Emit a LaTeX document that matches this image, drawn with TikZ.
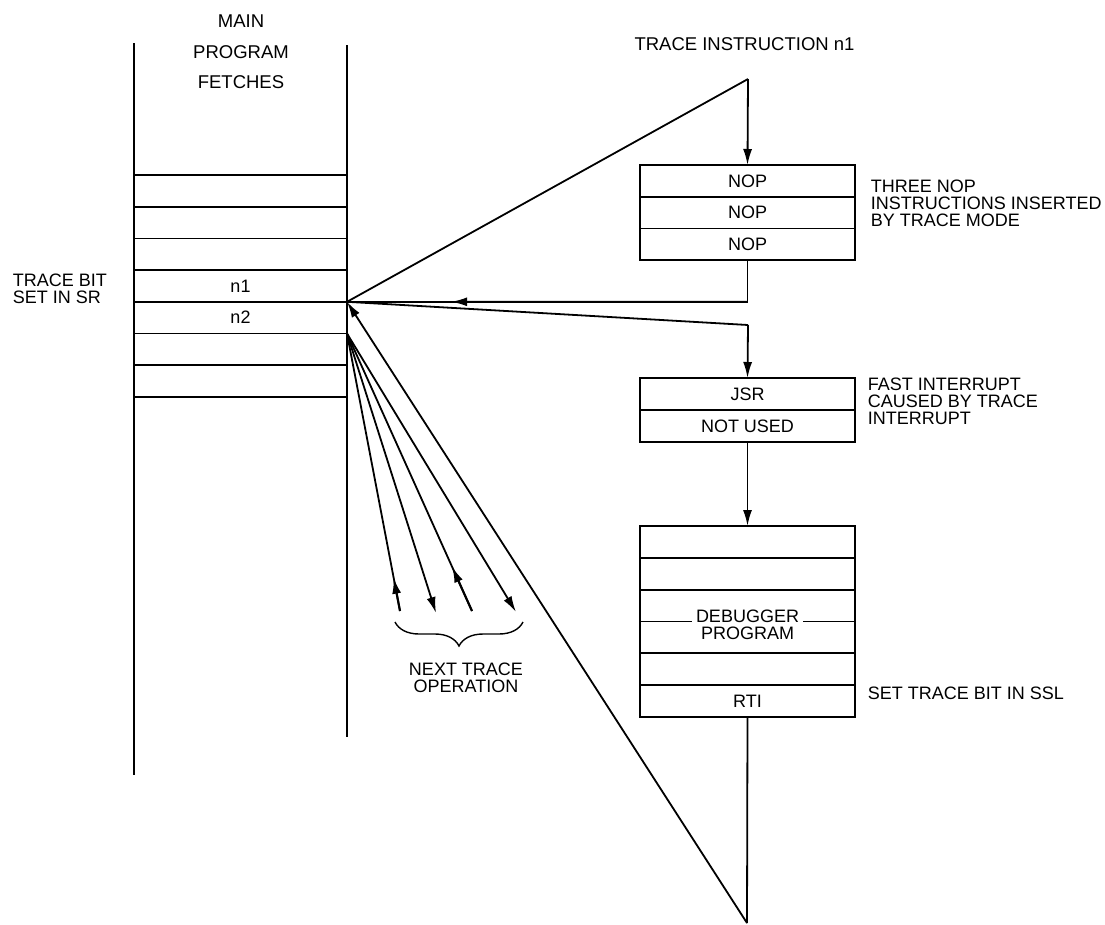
\documentclass[tikz,border=0pt]{standalone}
\usepackage{fontspec}
\setmainfont{Liberation Sans}
\usetikzlibrary{arrows.meta,calc,decorations.pathreplacing}
\begin{document}
\begin{tikzpicture}[x=1pt,y=-1pt,line width=1.8pt,
  txt/.style={inner sep=0pt,font=\fontsize{18}{17}\selectfont},
  cell/.style={draw,outer sep=0pt,inner sep=0pt,minimum width=213pt,minimum height=31.7pt,font=\fontsize{18}{17}\selectfont},
  rcell/.style={cell,minimum width=215pt},
  arr/.style={-{Latex[length=16pt,width=9pt]}},
  note/.style={txt,anchor=west,align=left}]
\useasboundingbox (0,0) rectangle (1105,924);
% main column
\coordinate (cLt) at (134,43); \coordinate (cLb) at (134,775);
\coordinate (cRt) at (347,45); \coordinate (cRb) at (347,737);
\draw (cLt) -- (cLb);
\draw (cRt) -- (cRb);
\foreach \i/\t in {1/,2/,3/,4/n1,5/n2,6/,7/}
  \node[cell] (m\i) at (240.5,{175+31.7*(\i-0.5)}) {\t};
\node[txt,align=center,font=\fontsize{18.5}{30.5}\selectfont] (title) at (241,52) {MAIN\\PROGRAM\\FETCHES};
\node[note] (tbit) at (12,288.5) {TRACE BIT\\SET IN SR};
\coordinate (P) at (m4.south east);
\coordinate (Q) at (m5.south east);
% NOP box
\node[txt,font=\fontsize{18.5}{17}\selectfont] (ti) at (744.5,44.5) {TRACE INSTRUCTION n1};
\coordinate (T) at (748,79);
\foreach \i in {1,2,3}
  \node[rcell] (nop\i) at (747.5,{165+31.7*(\i-0.5)}) {NOP};
\node[note] (nopn) at (870,203) {THREE NOP\\INSTRUCTIONS INSERTED\\BY TRACE MODE};
\draw (P) -- (T);
\draw[arr] (T) -- (nop1.north);
\coordinate (c1) at ($(nop3.south)+(0,41.7)$);
\draw (nop3.south) -- (c1) -- (P);
\draw[arr] (c1) -- ($(c1)!0.74!(P)$);
% JSR box
\node[rcell,minimum height=32pt] (jsr) at (747.5,394) {JSR};
\node[rcell,minimum height=32pt] (nu) at (747.5,426) {NOT USED};
\node[note] (fastn) at (867,401.5) {FAST INTERRUPT\\CAUSED BY TRACE\\INTERRUPT};
\coordinate (c2) at (748,325);
\draw (P) -- (c2);
\draw[arr] (c2) -- (jsr.north);
% debugger box
\foreach \i in {1,...,6}
  \node[rcell,minimum height=31.83pt] (d\i) at (747.5,{526+31.83*(\i-0.5)}) {};
\node[txt,fill=white,inner xsep=4pt,inner ysep=1pt,align=center] (dbg) at (747.5,625) {DEBUGGER\\PROGRAM};
\node[txt] (rti) at (d6) {RTI};
\node[note] (ssl) at (867,693.5) {SET TRACE BIT IN SSL};
\draw[arr] (nu.south) -- (d1.north);
\coordinate (B) at (747,923);
\draw (d6.south) -- (B);
\draw[arr] (B) -- (P);
% fan of next trace operation
\coordinate (e1) at (400,611);
\coordinate (e2) at (436,613);
\coordinate (e3) at (472,611);
\coordinate (e4) at (516,612);
\draw (e1) -- (Q);
\draw[arr,line width=2.1pt] (e1) -- ($(e1)!0.12!(Q)$);
\draw[arr] (Q) -- (e2);
\draw (e3) -- (Q);
\draw[arr,line width=2.1pt] (e3) -- ($(e3)!0.16!(Q)$);
\draw[arr] (Q) -- (e4);
\coordinate (br1) at (395,622);
\coordinate (br2) at (523,622);
\draw[decorate,decoration={brace,mirror,amplitude=24pt},line width=1.4pt] (br1) -- (br2);
\node[txt,align=center] (nto) at (466,678) {NEXT TRACE\\OPERATION};
\end{tikzpicture}
\end{document}
